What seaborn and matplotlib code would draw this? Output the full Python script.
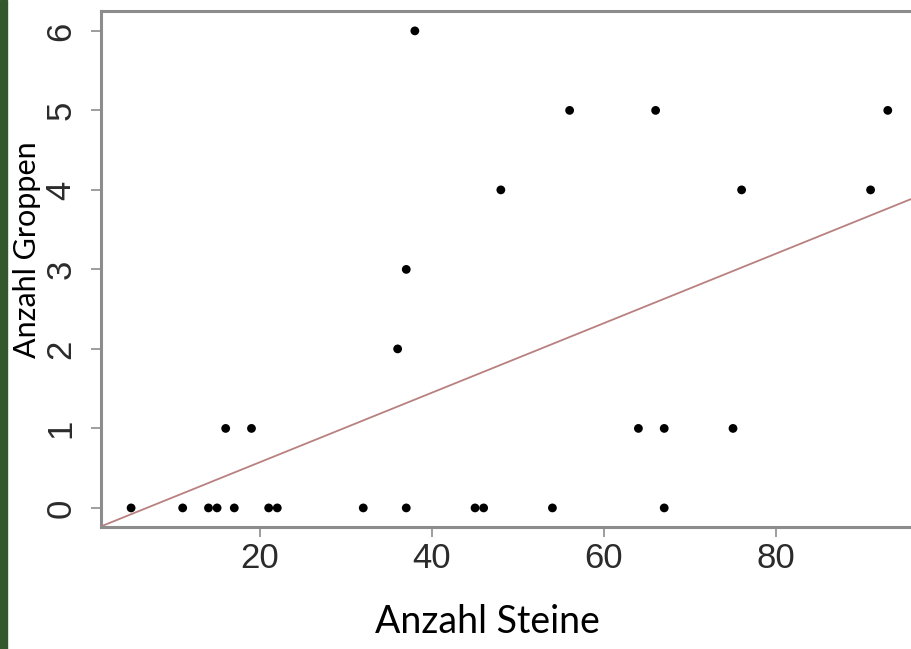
import matplotlib
matplotlib.use("Agg")
import matplotlib.pyplot as plt
import seaborn as sns
import pandas as pd
from matplotlib.patches import Rectangle

# Anzahl Steine (x) and Anzahl Groppen (y)
steine = [5, 11, 14, 15, 17, 21, 22, 32, 37, 45, 46, 54, 67,
          16, 19, 64, 67, 75,
          36,
          37,
          48, 76, 91,
          56, 66, 93,
          38]
groppen = [0] * 13 + [1] * 5 + [2] + [3] + [4] * 3 + [5] * 3 + [6]

x_ticks = [20, 40, 60, 80]
y_ticks = [0, 1, 2, 3, 4, 5, 6]

df = pd.DataFrame({"Steine": steine, "Groppen": groppen})

sns.set_theme(style="white")
plt.rcParams["font.family"] = ["Liberation Sans", "DejaVu Sans"]

fig = plt.figure(figsize=(9.11, 6.49), dpi=100)
W, H = 911, 649
ax = fig.add_axes([101 / W, 122 / H, 810 / W, 516 / H])
ax.set_xlim(1.5, 95.7)
ax.set_ylim(-0.24, 6.25)

sns.scatterplot(data=df, x="Steine", y="Groppen", ax=ax, color="black",
                s=40, edgecolor="none", zorder=3)
sns.regplot(data=df, x="Steine", y="Groppen", ax=ax, scatter=False, ci=None,
            truncate=False, line_kws=dict(color="#b98080", lw=1.3))
ax.set_xlim(1.5, 95.7)
ax.set_ylim(-0.24, 6.25)

# R-like axes
spine_col = "#8c8c8c"
ax.spines["right"].set_visible(False)
for s in ["left", "top", "bottom"]:
    ax.spines[s].set_color(spine_col)
    ax.spines[s].set_linewidth(2.2)

ax.set_xticks(x_ticks)
ax.set_yticks(y_ticks)
ax.tick_params(axis="both", which="major", direction="out", length=7,
               width=1.2, color=spine_col, labelsize=25, labelcolor="#2b2b2b")
ax.tick_params(axis="x", pad=4, bottom=True)
ax.tick_params(axis="y", pad=10, left=True)
for lab in ax.get_yticklabels():
    lab.set_rotation(90)
    lab.set_va("center")
ax.set_xlabel("")
ax.set_ylabel("")

# slide labels
fig.text(27 / W, 1 - 250 / H, "Anzahl Groppen", rotation=90, ha="center",
         va="center", fontsize=22, family=["Lato", "DejaVu Sans"], color="black")
fig.text(487 / W, 1 - 622 / H, "Anzahl Steine", ha="center", va="center",
         fontsize=27, family=["Lato", "DejaVu Sans"], color="black")

# dark green slide edge on the left
fig.add_artist(Rectangle((0, 0), 7 / W, 1, transform=fig.transFigure,
                         color="#34582c", zorder=10))

fig.savefig("out.png", dpi=100)
